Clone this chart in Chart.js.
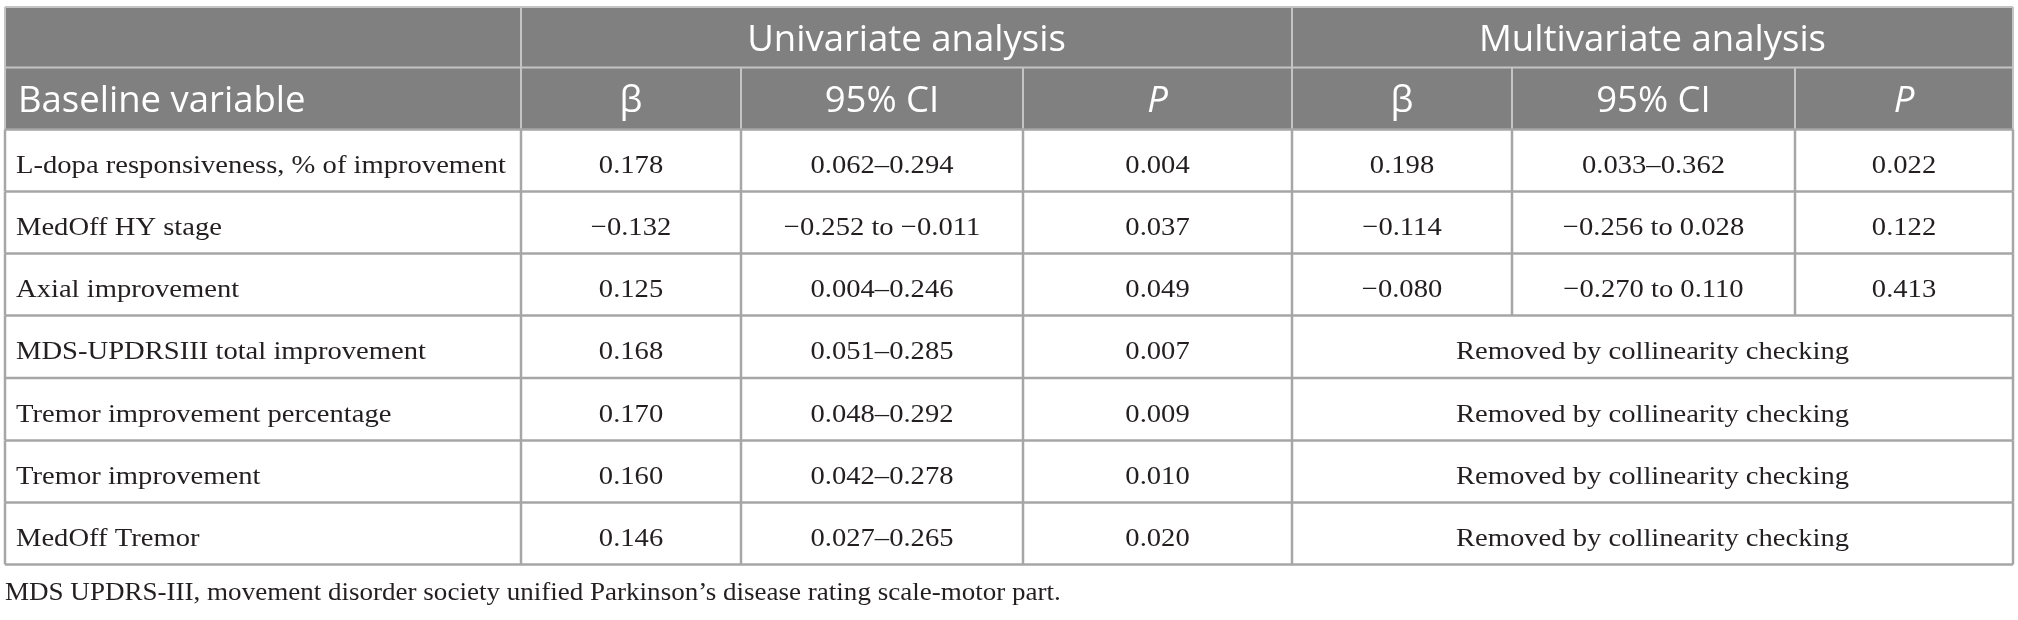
<!DOCTYPE html>
<html>
<head>
<meta charset="utf-8">
<script src="https://cdn.jsdelivr.net/npm/chart.js@4"></script>
<style>
html,body{margin:0;padding:0;background:#ffffff;}
#wrap{width:2018px;height:620px;}
</style>
</head>
<body>
<div id="wrap"><canvas id="c" width="2018" height="620"></canvas></div>
<script>
// ---------- DATA ----------
const groupHeaders = ['Univariate analysis', 'Multivariate analysis'];
const columnHeaders = ['Baseline variable', 'β', '95% CI', 'P', 'β', '95% CI', 'P'];
const variables = [
  'L-dopa responsiveness, % of improvement',
  'MedOff HY stage',
  'Axial improvement',
  'MDS-UPDRSIII total improvement',
  'Tremor improvement percentage',
  'Tremor improvement',
  'MedOff Tremor'
];
const uniBeta = ['0.178', '−0.132', '0.125', '0.168', '0.170', '0.160', '0.146'];
const uniCI = ['0.062–0.294', '−0.252 to −0.011', '0.004–0.246', '0.051–0.285', '0.048–0.292', '0.042–0.278', '0.027–0.265'];
const uniP = ['0.004', '0.037', '0.049', '0.007', '0.009', '0.010', '0.020'];
const multiBeta = ['0.198', '−0.114', '−0.080', null, null, null, null];
const multiCI = ['0.033–0.362', '−0.256 to 0.028', '−0.270 to 0.110', null, null, null, null];
const multiP = ['0.022', '0.122', '0.413', null, null, null, null];
const removedNote = 'Removed by collinearity checking';
const footnote = 'MDS UPDRS-III, movement disorder society unified Parkinson’s disease rating scale-motor part.';

// ---------- LAYOUT (in scale units) ----------
const colEdges = [5, 521, 741, 1023, 1292, 1512, 1795, 2013];
const rowEdges = [7, 67.5, 129.5, 191.5, 253.5, 315.5, 378, 440.5, 502.5, 564.5];
const footY = 600;

const HEADER_BG = '#808080';
const HEADER_LINE = '#c4c4c4';
const GRID = '#a6a6a6';
const TEXT = '#231f20';
const BODY_FONT = '26px "Liberation Serif"';
const BODY_SX = 1.1;
const FOOT_SX = 1.04;
const HEAD_FONT = '36.5px "Open Sans"';
const HEAD_FONT_I = 'italic 36.5px "Open Sans"';

function drawText(ctx, s, px, py, font, color, align, sx) {
  ctx.save();
  ctx.font = font;
  ctx.fillStyle = color;
  ctx.textBaseline = 'alphabetic';
  ctx.translate(px, py);
  ctx.scale(sx, 1);
  ctx.textAlign = align;
  ctx.fillText(s, 0, 0);
  ctx.restore();
}

const tablePlugin = {
  id: 'tablePlugin',
  afterDraw(chart) {
    const ctx = chart.ctx;
    const xs = chart.scales.x, ys = chart.scales.y;
    const X = v => xs.getPixelForValue(v);
    const Y = v => ys.getPixelForValue(v);
    const cx = i => (X(colEdges[i]) + X(colEdges[i + 1])) / 2;
    const cy = r => (Y(rowEdges[r]) + Y(rowEdges[r + 1])) / 2;
    const L = colEdges[0], R = colEdges[colEdges.length - 1];

    const line = (x1, y1, x2, y2, color, w) => {
      ctx.save();
      ctx.strokeStyle = color; ctx.lineWidth = w;
      ctx.beginPath(); ctx.moveTo(X(x1), Y(y1)); ctx.lineTo(X(x2), Y(y2)); ctx.stroke();
      ctx.restore();
    };

    // header background
    ctx.save();
    ctx.fillStyle = HEADER_BG;
    ctx.fillRect(X(L), Y(rowEdges[0]), X(R) - X(L), Y(rowEdges[2]) - Y(rowEdges[0]));
    ctx.restore();

    // header lines
    line(L, rowEdges[0], R, rowEdges[0], HEADER_LINE, 2);
    line(L, rowEdges[1], R, rowEdges[1], HEADER_LINE, 2);
    [1, 4].forEach(c => line(colEdges[c], rowEdges[0], colEdges[c], rowEdges[2], HEADER_LINE, 2));
    [2, 3, 5, 6].forEach(c => line(colEdges[c], rowEdges[1], colEdges[c], rowEdges[2], HEADER_LINE, 2));
    line(L, rowEdges[0], L, rowEdges[2], HEADER_LINE, 2);
    line(R, rowEdges[0], R, rowEdges[2], HEADER_LINE, 2);

    // header text
    const hOff = 13.5;
    drawText(ctx, groupHeaders[0], (X(colEdges[1]) + X(colEdges[4])) / 2, cy(0) + hOff, HEAD_FONT, '#ffffff', 'center', 1);
    drawText(ctx, groupHeaders[1], (X(colEdges[4]) + X(colEdges[7])) / 2, cy(0) + hOff, HEAD_FONT, '#ffffff', 'center', 1);
    columnHeaders.forEach((h, i) => {
      if (i === 0) {
        drawText(ctx, h, X(colEdges[0]) + 13, cy(1) + hOff, HEAD_FONT, '#ffffff', 'left', 1);
      } else {
        drawText(ctx, h, cx(i), cy(1) + hOff, h === 'P' ? HEAD_FONT_I : HEAD_FONT, '#ffffff', 'center', 1);
      }
    });

    // body grid
    const nRows = variables.length;
    for (let r = 0; r <= nRows; r++) {
      const yy = rowEdges[2 + r];
      line(L, yy, R, yy, GRID, 2.5);
    }
    for (let r = 0; r < nRows; r++) {
      const y1 = rowEdges[2 + r], y2 = rowEdges[3 + r];
      const full = multiBeta[r] !== null;
      colEdges.forEach((e, c) => {
        if (!full && (c === 5 || c === 6)) return;
        line(e, y1, e, y2, GRID, 2.5);
      });
    }

    // body text
    const bOff = 12.5;
    for (let r = 0; r < nRows; r++) {
      const yy = cy(2 + r) + bOff;
      drawText(ctx, variables[r], X(colEdges[0]) + 11, yy, BODY_FONT, TEXT, 'left', BODY_SX);
      drawText(ctx, uniBeta[r], cx(1), yy, BODY_FONT, TEXT, 'center', BODY_SX);
      drawText(ctx, uniCI[r], cx(2), yy, BODY_FONT, TEXT, 'center', BODY_SX);
      drawText(ctx, uniP[r], cx(3), yy, BODY_FONT, TEXT, 'center', BODY_SX);
      if (multiBeta[r] !== null) {
        drawText(ctx, multiBeta[r], cx(4), yy, BODY_FONT, TEXT, 'center', BODY_SX);
        drawText(ctx, multiCI[r], cx(5), yy, BODY_FONT, TEXT, 'center', BODY_SX);
        drawText(ctx, multiP[r], cx(6), yy, BODY_FONT, TEXT, 'center', BODY_SX);
      } else {
        drawText(ctx, removedNote, (X(colEdges[4]) + X(colEdges[7])) / 2, yy, BODY_FONT, TEXT, 'center', BODY_SX);
      }
    }

    // footnote
    drawText(ctx, footnote, X(colEdges[0]), Y(footY), BODY_FONT, TEXT, 'left', FOOT_SX);
  }
};

new Chart(document.getElementById('c'), {
  type: 'scatter',
  data: { datasets: [{ data: [], pointRadius: 0 }] },
  options: {
    responsive: false,
    animation: false,
    devicePixelRatio: 1,
    layout: { padding: 0 },
    plugins: { legend: { display: false }, tooltip: { enabled: false } },
    scales: {
      x: { type: 'linear', min: 0, max: 2018, display: false },
      y: { type: 'linear', min: 0, max: 620, reverse: true, display: false }
    }
  },
  plugins: [tablePlugin]
});
</script>
</body>
</html>
